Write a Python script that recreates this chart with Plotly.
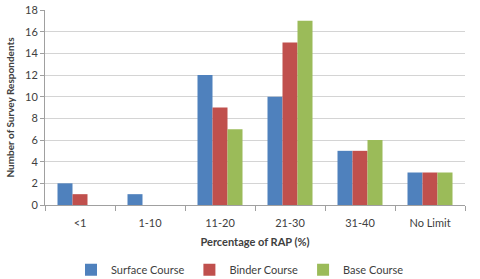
import plotly.graph_objects as go

categories = ["<1", "1-10", "11-20", "21-30", "31-40", "No Limit"]
surface = [2, 1, 12, 10, 5, 3]
binder = [1, 0, 9, 15, 5, 3]
base = [0, 0, 7, 17, 6, 3]
y_ticks = [0, 2, 4, 6, 8, 10, 12, 14, 16, 18]

fig = go.Figure()
for name, vals, col in [("Surface Course", surface, "#4F81BD"),
                        ("Binder Course", binder, "#C0504D"),
                        ("Base Course", base, "#9BBB59")]:
    fig.add_trace(go.Bar(x=categories, y=vals, name=name, marker_color=col,
                         marker_line_width=0))

font = "Lato, Open Sans, sans-serif"
fig.update_layout(
    width=480, height=279,
    margin=dict(l=45, r=15, t=10, b=74, autoexpand=False),
    paper_bgcolor="white", plot_bgcolor="white",
    barmode="group", bargap=0.357, bargroupgap=0,
    font=dict(family=font, size=11, color="#404040"),
    legend=dict(orientation="h", x=0.5, xref="container", xanchor="center",
                y=0.033, yref="container", yanchor="middle",
                font=dict(size=11, color="#404040"), itemwidth=30, tracegroupgap=0),
    xaxis=dict(title=dict(text="<b>Percentage of RAP (%)</b>", font=dict(size=11), standoff=10),
               showline=True, linecolor="#A0A0A0", linewidth=1,
               ticks="outside", ticklen=5, tickcolor="#A0A0A0",
               tickson="boundaries", showgrid=False, tickfont=dict(size=11),
               ticklabelstandoff=8),
    yaxis=dict(title=dict(text="<b>Number of Survey Respondents</b>", font=dict(size=10), standoff=8),
               range=[0, 18], tickvals=y_ticks, showgrid=True, gridcolor="#D4D4D4",
               showline=True, linecolor="#A0A0A0", ticks="outside", ticklen=4,
               tickcolor="#A0A0A0", tickfont=dict(size=11), zeroline=False),
)
fig.write_html("out.html", config={"displayModeBar": False},
               post_script="document.body.style.margin='0';")
